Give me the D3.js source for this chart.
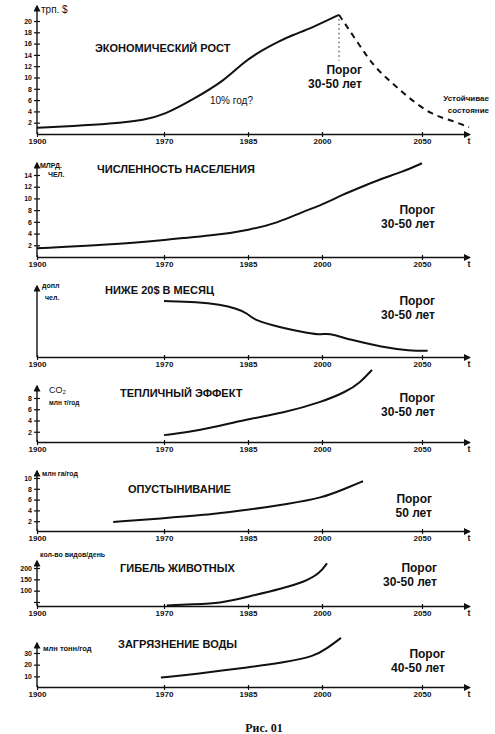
<!DOCTYPE html>
<html>
<head>
<meta charset="utf-8">
<script src="https://cdn.jsdelivr.net/npm/d3@7"></script>
<style>
  body { margin: 0; background: #fff; }
  text { font-family: "Liberation Sans", Arial, sans-serif; fill: #111; }
</style>
</head>
<body>
<script>
// shared time axis (non-uniform in the original drawing)
const xTicks = [1900, 1970, 1985, 2000, 2050];

// 1. economic growth, trillion $
const growthYears  = [1900, 1920, 1940, 1960, 1970, 1975, 1981, 1984, 1988, 1991, 1994, 1998, 2008.5];
const growthValues = [1.1, 1.4, 1.8, 2.5, 3.4, 6.0, 9.6, 12.6, 14.9, 16.3, 17.5, 18.8, 21.1];
const declineYears  = [2008.5, 2018, 2026, 2034.5, 2043, 2055, 2065, 2075];
const declineValues = [21.1, 16.1, 11.9, 9.2, 6.5, 3.4, 2.5, 1.2];
const growthTicks = [2, 4, 6, 8, 10, 12, 14, 16, 18, 20];

// 2. population, bn people
const popYears  = [1900, 1940, 1970, 1980, 1985, 1991, 1996, 2000, 2010, 2020, 2030, 2040, 2050];
const popValues = [1.5, 2.1, 2.9, 3.8, 4.6, 5.8, 7.7, 8.9, 10.6, 12.0, 13.4, 14.5, 16.0];
const popTicks = [2, 4, 6, 8, 10, 12, 14];

// 3. below $20 a month
const poorYears  = [1970, 1976, 1980, 1983, 1985, 1986, 1992, 1997, 2000, 2003, 2014, 2030, 2044, 2053];
const poorValues = [8.1, 8.0, 7.6, 7.0, 6.3, 5.4, 4.2, 3.5, 3.2, 3.5, 2.5, 1.45, 0.9, 0.9];

// 4. greenhouse effect, CO2
const co2Years  = [1970, 1976, 1985, 1992, 2000, 2012, 2019, 2025];
const co2Values = [1.4, 2.1, 4.3, 5.3, 7.3, 9.1, 10.7, 13.0];
const co2Ticks = [2, 4, 6, 8];

// 5. desertification, mln ha / year
const desertYears  = [1942, 1970.5, 1979, 1985, 1993, 2000, 2012, 2020.5];
const desertValues = [1.85, 2.6, 3.3, 4.1, 5.2, 6.3, 8.1, 9.4];
const desertTicks = [2, 4, 6, 8, 10];

// 6. species loss, species / day
const speciesYears  = [1970.5, 1975, 1980, 1985, 1992, 1996.3, 1999.6, 2002.5];
const speciesValues = [35, 40, 44, 73, 110, 137, 177, 221];
const speciesTicks = [50, 100, 150, 200];

// 7. water pollution, mln t / year
const waterYears  = [1968.3, 1975.7, 1985.5, 1992.2, 1998.4, 2002.6, 2009.5];
const waterValues = [8.9, 12, 18, 22, 27, 34, 43];
const waterTicks = [10, 20, 30];

function main() {
  const svg = d3.select("body").append("svg")
    .attr("width", 495)
    .attr("height", 734);

  svg.append("rect").attr("width", 495).attr("height", 734).attr("fill", "#fff");

  svg.append("defs").append("marker")
    .attr("id", "arrow")
    .attr("viewBox", "0 0 10 10")
    .attr("refX", 8).attr("refY", 5)
    .attr("markerWidth", 5).attr("markerHeight", 5)
    .attr("orient", "auto")
    .append("path")
    .attr("d", "M0,0 L10,5 L0,10 z")
    .attr("fill", "#111");

  let x = d3.scaleLinear()
    .domain([1900, 1970, 1985, 2000, 2050, 2075])
    .range([37, 164, 248, 322, 422, 469]);

  const panels = [
    { axisY: 134, topY: 6, yDomain: [0, 20], yRange: [134, 21], ticks: growthTicks,
      series: [{ years: growthYears, values: growthValues }, { years: declineYears, values: declineValues, dash: "6,5" }],
      title: "ЭКОНОМИЧЕСКИЙ РОСТ", tx: 95, ty: 52,
      units: [{ t: "трп. $", x: 41, y: 13, size: 10, weight: "normal" }],
      porog: ["Порог", "30-50 лет"], px: 362, py: 74 },
    { axisY: 257, topY: 163, yDomain: [0, 14], yRange: [257, 175], ticks: popTicks,
      series: [{ years: popYears, values: popValues }],
      title: "ЧИСЛЕННОСТЬ НАСЕЛЕНИЯ", tx: 97, ty: 173,
      units: [{ t: "МЛРД.", x: 40, y: 168, size: 7 }, { t: "ЧЕЛ.", x: 48, y: 177, size: 7 }],
      porog: ["Порог", "30-50 лет"], px: 435, py: 214 },
    { axisY: 357, topY: 286, yDomain: [0, 10], yRange: [357, 288], ticks: [],
      series: [{ years: poorYears, values: poorValues }],
      title: "НИЖЕ 20$ В МЕСЯЦ", tx: 105, ty: 294,
      units: [{ t: "допл", x: 42, y: 288, size: 7 }, { t: "чел.", x: 45, y: 300, size: 7 }],
      porog: ["Порог", "30-50 лет"], px: 435, py: 305 },
    { axisY: 442, topY: 386, yDomain: [0, 8], yRange: [443, 398], ticks: co2Ticks,
      series: [{ years: co2Years, values: co2Values }],
      title: "ТЕПЛИЧНЫЙ ЭФФЕКТ", tx: 120, ty: 397,
      units: [{ t: "CO₂", x: 49, y: 393, size: 9, weight: "normal" }, { t: "млн т/год", x: 49, y: 405, size: 6.5 }],
      porog: ["Порог", "30-50 лет"], px: 435, py: 402 },
    { axisY: 531, topY: 471, yDomain: [0, 10], yRange: [532, 478], ticks: desertTicks,
      series: [{ years: desertYears, values: desertValues }],
      title: "ОПУСТЫНИВАНИЕ", tx: 128, ty: 493,
      units: [{ t: "млн га/год", x: 42, y: 476, size: 7 }],
      porog: ["Порог", "50 лет"], px: 432, py: 503 },
    { axisY: 606, topY: 561, yDomain: [50, 200], yRange: [602, 568], ticks: speciesTicks,
      series: [{ years: speciesYears, values: speciesValues }],
      title: "ГИБЕЛЬ ЖИВОТНЫХ", tx: 120, ty: 572,
      units: [{ t: "кол-во видов/день", x: 40, y: 557, size: 7 }],
      porog: ["Порог", "30-50 лет"], px: 437, py: 572 },
    { axisY: 687, topY: 643, yDomain: [0, 30], yRange: [688, 653], ticks: waterTicks,
      series: [{ years: waterYears, values: waterValues }],
      title: "ЗАГРЯЗНЕНИЕ ВОДЫ", tx: 118, ty: 648,
      units: [{ t: "млн тонн/год", x: 43, y: 651, size: 7.5 }],
      porog: ["Порог", "40-50 лет"], px: 445, py: 658 }
  ];

  panels.forEach(function (p, i) {
    let y = d3.scaleLinear().domain(p.yDomain).range(p.yRange);
    let g = svg.append("g");

    // time axis with arrow
    let xaxis = d3.axisBottom(x).tickValues(xTicks).tickSize(3).tickSizeOuter(0)
      .tickPadding(1).tickFormat(d3.format("d"));
    let xg = g.append("g").attr("transform", `translate(0,${p.axisY})`).call(xaxis);
    xg.attr("font-family", null).attr("font-size", null);
    xg.select(".domain").attr("stroke", "#111").attr("stroke-width", 1.4).attr("marker-end", "url(#arrow)");
    xg.selectAll(".tick line").attr("y1", -2).attr("stroke", "#111").attr("stroke-width", 1.2);
    xg.selectAll(".tick text").style("font-size", "8px").style("font-weight", "bold");
    g.append("text")
      .attr("x", x(2075)).attr("y", p.axisY + 10)
      .attr("text-anchor", "middle")
      .style("font-size", "9px").style("font-weight", "bold")
      .text("t");

    // value axis with arrow
    g.append("line")
      .attr("x1", x(1900)).attr("x2", x(1900))
      .attr("y1", p.axisY).attr("y2", p.topY)
      .attr("stroke", "#111").attr("stroke-width", 1.4)
      .attr("marker-end", "url(#arrow)");
    let yaxis = d3.axisLeft(y).tickValues(p.ticks).tickSize(3).tickPadding(2)
      .tickFormat(d => (i === 5 && d === 50) ? "" : d);
    let yg = g.append("g").attr("transform", `translate(${x(1900)},0)`).call(yaxis);
    yg.attr("font-family", null).attr("font-size", null);
    yg.select(".domain").remove();
    yg.selectAll(".tick line").attr("x1", 3).attr("stroke", "#111").attr("stroke-width", 1.2);
    yg.selectAll(".tick text").style("font-size", "7px").style("font-weight", "bold");

    // curves
    let line = d3.line()
      .x(d => x(d[0]))
      .y(d => y(d[1]))
      .curve(d3.curveBasis);
    p.series.forEach(function (s) {
      g.append("path")
        .attr("d", line(d3.zip(s.years, s.values)))
        .attr("fill", "none")
        .attr("stroke", "#111")
        .attr("stroke-width", 2)
        .attr("stroke-dasharray", s.dash || null);
    });

    // texts
    g.append("text")
      .attr("x", p.tx).attr("y", p.ty)
      .style("font-size", "11px").style("font-weight", "bold")
      .text(p.title);
    p.units.forEach(function (u) {
      g.append("text")
        .attr("x", u.x).attr("y", u.y)
        .style("font-size", u.size + "px").style("font-weight", u.weight || "bold")
        .text(u.t);
    });
    p.porog.forEach(function (t, k) {
      g.append("text")
        .attr("x", p.px).attr("y", p.py + k * 14)
        .attr("text-anchor", "end")
        .style("font-size", "12px").style("font-weight", "bold")
        .text(t);
    });

    if (i === 0) {
      // dotted drop from the peak
      g.append("line")
        .attr("x1", x(2008.5)).attr("x2", x(2008.5))
        .attr("y1", y(20.3)).attr("y2", y(13))
        .attr("stroke", "#444").attr("stroke-width", 1.2)
        .attr("stroke-dasharray", "1.5,3");
      g.append("text")
        .attr("x", 210).attr("y", 104)
        .style("font-size", "10px")
        .text("10% год?");
      ["Устойчивае", "состояние"].forEach(function (t, k) {
        g.append("text")
          .attr("x", 489).attr("y", 101 + k * 12)
          .attr("text-anchor", "end")
          .style("font-size", "8px").style("font-weight", "bold")
          .text(t);
      });
    }
  });

  svg.append("text")
    .attr("x", 264).attr("y", 732)
    .attr("text-anchor", "middle")
    .style("font-family", "'Liberation Serif', 'Times New Roman', serif")
    .style("font-size", "12px").style("font-weight", "bold")
    .text("Рис. 01");
}

main()
</script>
</body>
</html>
